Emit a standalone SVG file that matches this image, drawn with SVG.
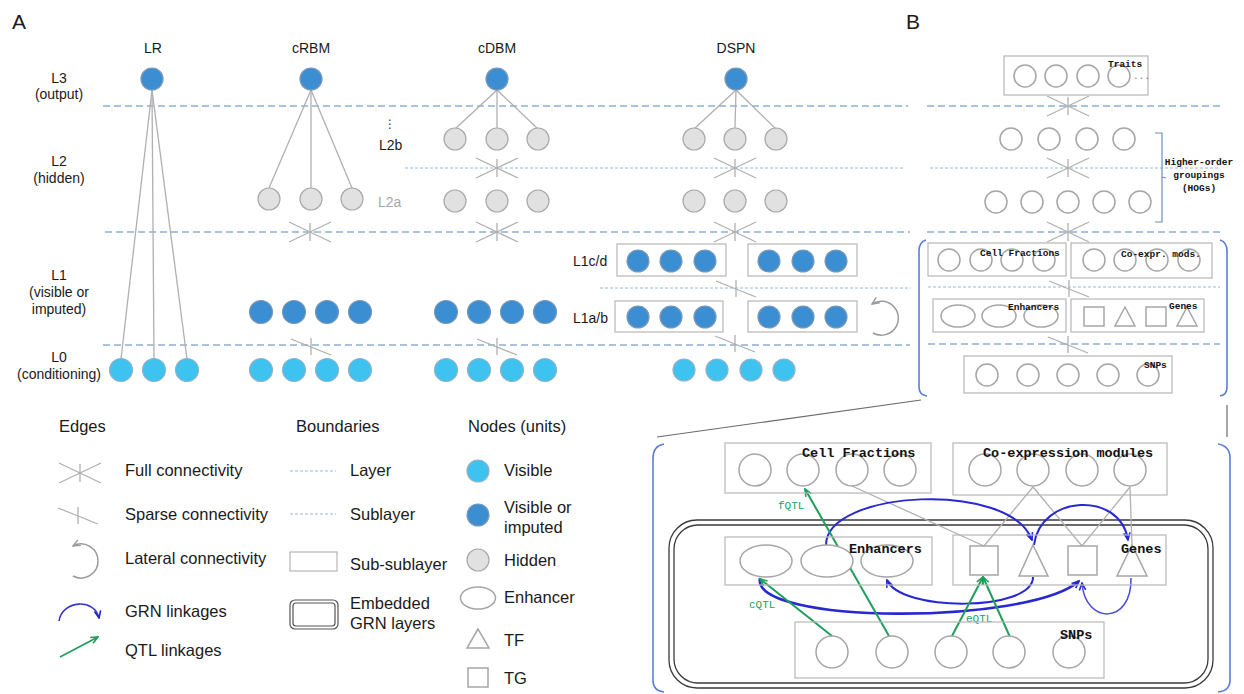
<svg xmlns="http://www.w3.org/2000/svg" width="1244" height="694" viewBox="0 0 1244 694">
<style>
.t{font-family:"Liberation Sans",Arial,sans-serif;fill:#1a1a1a}
.a{font-size:14px;text-anchor:middle}
.s{font-size:14px}
.lg{font-size:16.5px}
.big{font-size:21px}
.m{font-family:"Liberation Mono","Courier New",monospace;font-weight:bold;fill:#111}
.ms{font-size:9.5px}
.mc{text-anchor:middle}
.mb{font-size:13.5px}
.q{font-family:"Liberation Mono","Courier New",monospace;font-size:11px;fill:#22a060}
.lay{stroke:#8eb0d0;stroke-width:1.3;stroke-dasharray:7 4;fill:none}
.sub{stroke:#9ab8d6;stroke-width:1;stroke-dasharray:3 2;fill:none}
.vis{fill:#3ec2ef;stroke:#93b3c6;stroke-width:1.2}
.imp{fill:#3b8ed2;stroke:#7b98b6;stroke-width:1.2}
.hid{fill:#e1e1e1;stroke:#a9a9a9;stroke-width:1.2}
.u{fill:#fff;stroke:#a6a6a6;stroke-width:1.5}
.box{fill:none;stroke:#b6b6b6;stroke-width:1.2}
.e{stroke:#b0b0b0;stroke-width:1.3;fill:none}
.grn{stroke:#2828d2;stroke-width:2;fill:none}
.qtl{stroke:#1f9e5c;stroke-width:2;fill:none}
.br{stroke:#5a7fd6;stroke-width:1.6;fill:none}
.emb{fill:none;stroke:#3a3a3a;stroke-width:1.3}
.gl{stroke:#6a6a6a;stroke-width:1.2;fill:none}
</style>
<defs>
<g id="full" class="e"><line x1="-21" y1="-10" x2="21" y2="10"/><line x1="-21" y1="10" x2="21" y2="-10"/><line x1="0" y1="-9" x2="0" y2="9"/></g>
<g id="sparse" class="e"><line x1="-20" y1="-8" x2="20" y2="8"/><line x1="0" y1="-9" x2="0" y2="8"/></g>
<marker id="mb" viewBox="0 0 10 10" refX="9" refY="5" markerWidth="9" markerHeight="9" markerUnits="userSpaceOnUse" orient="auto"><path d="M1,1.5 L9,5 L1,8.5" fill="none" stroke="#2828d2" stroke-width="1.8"/></marker>
<marker id="mg" viewBox="0 0 10 10" refX="9" refY="5" markerWidth="9" markerHeight="9" markerUnits="userSpaceOnUse" orient="auto"><path d="M1,1.5 L9,5 L1,8.5" fill="none" stroke="#1f9e5c" stroke-width="1.8"/></marker>
<marker id="mgr" viewBox="0 0 10 10" refX="9" refY="5" markerWidth="9" markerHeight="9" markerUnits="userSpaceOnUse" orient="auto-start-reverse"><path d="M1,1.5 L9,5 L1,8.5" fill="none" stroke="#9a9a9a" stroke-width="1.6"/></marker>
</defs>

<g id="labels">
<text class="t big" x="12" y="29">A</text>
<text class="t big" x="906" y="29">B</text>
<text class="t a" x="153" y="53">LR</text>
<text class="t a" x="311" y="53">cRBM</text>
<text class="t a" x="497" y="53">cDBM</text>
<text class="t a" x="736" y="53">DSPN</text>
<text class="t a" x="59" y="83">L3</text>
<text class="t a" x="59" y="99">(output)</text>
<text class="t a" x="59" y="166">L2</text>
<text class="t a" x="59" y="183">(hidden)</text>
<text class="t a" x="59" y="280">L1</text>
<text class="t a" x="59" y="297">(visible or</text>
<text class="t a" x="59" y="314">imputed)</text>
<text class="t a" x="59" y="362">L0</text>
<text class="t a" x="59" y="379">(conditioning)</text>
<text x="390" y="128" style="font-family:'DejaVu Sans',sans-serif;font-size:12px;fill:#333" text-anchor="middle">⋮</text>
<text class="t s" x="379" y="150">L2b</text>
<text class="t s" x="378" y="207" style="fill:#a8a8a8">L2a</text>
<text class="t s" x="573" y="266">L1c/d</text>
<text class="t s" x="573" y="323">L1a/b</text>
</g>

<g id="boundaries">
<line class="lay" x1="103" y1="106" x2="908" y2="106"/>
<line class="sub" x1="405" y1="168" x2="903" y2="168"/>
<line class="lay" x1="105" y1="232" x2="910" y2="232"/>
<line class="sub" x1="600" y1="288" x2="911" y2="288"/>
<line class="lay" x1="103" y1="345" x2="910" y2="345"/>
<line class="lay" x1="927" y1="106" x2="1220" y2="106"/>
<line class="sub" x1="930" y1="168" x2="1220" y2="168"/>
<line class="lay" x1="927" y1="232" x2="1220" y2="232"/>
<line class="sub" x1="928" y1="287" x2="1220" y2="287"/>
<line class="lay" x1="928" y1="344" x2="1220" y2="344"/>
<rect class="box" x="617" y="244" width="109" height="32"/>
<rect class="box" x="748" y="244" width="109" height="32"/>
<rect class="box" x="615" y="301" width="108" height="31"/>
<rect class="box" x="748" y="301" width="109" height="31"/>
<path d="M1155 133 L1162 133 L1162 222 L1155 222 M1162 177 L1166 178" fill="none" stroke="#6d8fc0" stroke-width="1.2"/>
<path class="br" d="M926 240 Q919 242 919 251 L919 387 Q919 395 927 396"/>
<path class="br" d="M1220 240 Q1227 242 1227 251 L1227 387 Q1227 395 1220 396"/>
<path class="br" d="M664 444 Q653 446 653 458 L653 680 Q653 691 664 692"/>
<path class="br" d="M1218 444 Q1230 446 1230 458 L1230 680 Q1230 691 1218 692"/>
<line class="gl" x1="657" y1="437" x2="921" y2="400"/>
<line class="gl" x1="1227" y1="405" x2="1227" y2="437"/>
<rect class="emb" x="669" y="520" width="544" height="168" rx="28"/>
<rect class="emb" x="674" y="525" width="534" height="158" rx="24"/>
</g>

<g id="connectors">
<g class="e">
<line x1="152" y1="90" x2="121" y2="359"/><line x1="152" y1="90" x2="154" y2="359"/><line x1="152" y1="90" x2="187" y2="359"/>
<line x1="311" y1="90" x2="269" y2="188"/><line x1="311" y1="90" x2="311" y2="188"/><line x1="311" y1="90" x2="352" y2="188"/>
<line x1="497" y1="90" x2="455" y2="129"/><line x1="497" y1="90" x2="497" y2="128"/><line x1="497" y1="90" x2="538" y2="129"/>
<line x1="736" y1="90" x2="694" y2="129"/><line x1="736" y1="90" x2="735" y2="128"/><line x1="736" y1="90" x2="776" y2="129"/>
</g>
<use href="#full" x="310" y="232"/>
<use href="#full" x="497" y="168"/>
<use href="#full" x="497" y="232"/>
<use href="#full" x="735" y="168"/>
<use href="#full" x="735" y="232"/>
<use href="#sparse" x="311" y="347"/>
<use href="#sparse" x="497" y="347"/>
<use href="#sparse" x="736" y="289"/>
<use href="#sparse" x="735" y="344"/>
<path d="M872 304 A17 17 0 1 1 873 333" fill="none" stroke="#9a9a9a" stroke-width="1.5" marker-start="url(#mgr)"/>
<use href="#full" x="1068" y="106"/>
<use href="#full" x="1068" y="168"/>
<use href="#full" x="1068" y="232"/>
<use href="#sparse" x="1069" y="289"/>
<use href="#sparse" x="1068" y="345"/>
<g class="e">
<line x1="852" y1="486" x2="984" y2="546"/>
<line x1="1033" y1="487" x2="984" y2="546"/>
<line x1="1033" y1="487" x2="1082" y2="546"/>
<line x1="1130" y1="487" x2="1082" y2="546"/>
<line x1="1130" y1="487" x2="1132" y2="545"/>
</g>
<path class="grn" d="M826 545 C826 490 1010 480 1032 540" marker-end="url(#mb)"/>
<path class="grn" d="M1034 545 C1040 495 1120 490 1128 540" marker-end="url(#mb)"/>
<path class="grn" d="M1033 577 C1033 612 900 612 887 580" marker-end="url(#mb)"/>
<path class="grn" d="M760 578 C750 625 1030 625 1079 581" marker-end="url(#mb)" style="stroke-width:2.6"/>
<path class="grn" d="M1131 578 C1132 625 1085 625 1082 583" marker-end="url(#mb)" style="stroke:#4a4ad8;stroke-width:1.5"/>
<line class="qtl" x1="832" y1="636" x2="760" y2="579" marker-end="url(#mg)"/>
<line class="qtl" x1="889" y1="636" x2="805" y2="489" marker-end="url(#mg)"/>
<line class="qtl" x1="952" y1="636" x2="983" y2="577" marker-end="url(#mg)"/>
<line class="qtl" x1="1010" y1="637" x2="983" y2="577" marker-end="url(#mg)"/>
<text class="q" x="778" y="509">fQTL</text>
<text class="q" x="749" y="608">cQTL</text>
<text class="q" x="966" y="622">eQTL</text>
</g>

<g id="lr-l3"><circle class="imp" cx="152" cy="79" r="11"/></g>
<g id="lr-l0-1"><circle class="vis" cx="121" cy="370" r="11.5"/></g>
<g id="lr-l0-2"><circle class="vis" cx="154" cy="370" r="11.5"/></g>
<g id="lr-l0-3"><circle class="vis" cx="187" cy="370" r="11.5"/></g>

<g id="crbm-l3"><circle class="imp" cx="311" cy="79" r="11"/></g>
<g id="crbm-l2a-1"><circle class="hid" cx="269" cy="199" r="11"/></g>
<g id="crbm-l2a-2"><circle class="hid" cx="311" cy="199" r="11"/></g>
<g id="crbm-l2a-3"><circle class="hid" cx="352" cy="199" r="11"/></g>
<g id="crbm-l1-1"><circle class="imp" cx="261" cy="312" r="11.5"/></g>
<g id="crbm-l1-2"><circle class="imp" cx="294" cy="312" r="11.5"/></g>
<g id="crbm-l1-3"><circle class="imp" cx="327" cy="312" r="11.5"/></g>
<g id="crbm-l1-4"><circle class="imp" cx="360" cy="312" r="11.5"/></g>
<g id="crbm-l0-1"><circle class="vis" cx="261" cy="370" r="11.5"/></g>
<g id="crbm-l0-2"><circle class="vis" cx="294" cy="370" r="11.5"/></g>
<g id="crbm-l0-3"><circle class="vis" cx="327" cy="370" r="11.5"/></g>
<g id="crbm-l0-4"><circle class="vis" cx="360" cy="370" r="11.5"/></g>

<g id="cdbm-l3"><circle class="imp" cx="497" cy="79" r="11"/></g>
<g id="cdbm-l2b-1"><circle class="hid" cx="455" cy="139" r="11"/></g>
<g id="cdbm-l2b-2"><circle class="hid" cx="497" cy="139" r="11"/></g>
<g id="cdbm-l2b-3"><circle class="hid" cx="538" cy="139" r="11"/></g>
<g id="cdbm-l2a-1"><circle class="hid" cx="455" cy="201" r="11"/></g>
<g id="cdbm-l2a-2"><circle class="hid" cx="497" cy="201" r="11"/></g>
<g id="cdbm-l2a-3"><circle class="hid" cx="538" cy="201" r="11"/></g>
<g id="cdbm-l1-1"><circle class="imp" cx="446" cy="312" r="11.5"/></g>
<g id="cdbm-l1-2"><circle class="imp" cx="479" cy="312" r="11.5"/></g>
<g id="cdbm-l1-3"><circle class="imp" cx="512" cy="312" r="11.5"/></g>
<g id="cdbm-l1-4"><circle class="imp" cx="545" cy="312" r="11.5"/></g>
<g id="cdbm-l0-1"><circle class="vis" cx="446" cy="370" r="11.5"/></g>
<g id="cdbm-l0-2"><circle class="vis" cx="479" cy="370" r="11.5"/></g>
<g id="cdbm-l0-3"><circle class="vis" cx="512" cy="370" r="11.5"/></g>
<g id="cdbm-l0-4"><circle class="vis" cx="545" cy="370" r="11.5"/></g>

<g id="dspn-l3"><circle class="imp" cx="736" cy="79" r="11"/></g>
<g id="dspn-l2b-1"><circle class="hid" cx="694" cy="139" r="11"/></g>
<g id="dspn-l2b-2"><circle class="hid" cx="735" cy="139" r="11"/></g>
<g id="dspn-l2b-3"><circle class="hid" cx="776" cy="139" r="11"/></g>
<g id="dspn-l2a-1"><circle class="hid" cx="694" cy="201" r="11"/></g>
<g id="dspn-l2a-2"><circle class="hid" cx="735" cy="201" r="11"/></g>
<g id="dspn-l2a-3"><circle class="hid" cx="776" cy="201" r="11"/></g>
<g id="dspn-l1c-1"><circle class="imp" cx="638" cy="261" r="11"/></g>
<g id="dspn-l1c-2"><circle class="imp" cx="671" cy="261" r="11"/></g>
<g id="dspn-l1c-3"><circle class="imp" cx="705" cy="261" r="11"/></g>
<g id="dspn-l1d-1"><circle class="imp" cx="769" cy="261" r="11"/></g>
<g id="dspn-l1d-2"><circle class="imp" cx="803" cy="261" r="11"/></g>
<g id="dspn-l1d-3"><circle class="imp" cx="836" cy="261" r="11"/></g>
<g id="dspn-l1a-1"><circle class="imp" cx="638" cy="317" r="11"/></g>
<g id="dspn-l1a-2"><circle class="imp" cx="671" cy="317" r="11"/></g>
<g id="dspn-l1a-3"><circle class="imp" cx="705" cy="317" r="11"/></g>
<g id="dspn-l1b-1"><circle class="imp" cx="769" cy="317" r="11"/></g>
<g id="dspn-l1b-2"><circle class="imp" cx="803" cy="317" r="11"/></g>
<g id="dspn-l1b-3"><circle class="imp" cx="836" cy="317" r="11"/></g>
<g id="dspn-l0-1"><circle class="vis" cx="684" cy="370" r="11"/></g>
<g id="dspn-l0-2"><circle class="vis" cx="717" cy="370" r="11"/></g>
<g id="dspn-l0-3"><circle class="vis" cx="751" cy="370" r="11"/></g>
<g id="dspn-l0-4"><circle class="vis" cx="784" cy="370" r="11"/></g>

<g id="b-traits">
<rect class="box" x="1004" y="56" width="144" height="39"/>
<circle class="u" cx="1025" cy="76" r="11"/><circle class="u" cx="1056" cy="76" r="11"/><circle class="u" cx="1088" cy="76" r="11"/><circle class="u" cx="1119" cy="76" r="11"/>
<text class="m ms" x="1108" y="67">Traits</text>
<text class="m ms" x="1133" y="79" style="fill:#777;font-weight:normal">...</text>
</g>
<g id="b-hog1">
<circle class="u" cx="1011" cy="139" r="11"/><circle class="u" cx="1049" cy="139" r="11"/><circle class="u" cx="1087" cy="139" r="11"/><circle class="u" cx="1124" cy="139" r="11"/>
</g>
<g id="b-hog2">
<circle class="u" cx="996" cy="202" r="11"/><circle class="u" cx="1032" cy="202" r="11"/><circle class="u" cx="1068" cy="202" r="11"/><circle class="u" cx="1104" cy="202" r="11"/><circle class="u" cx="1140" cy="202" r="11"/>
</g>
<g id="b-hog-label">
<text class="m ms mc" x="1199" y="165">Higher-order</text>
<text class="m ms mc" x="1199" y="178">groupings</text>
<text class="m ms mc" x="1199" y="191">(HOGs)</text>
</g>
<g id="b-cellfrac-small">
<rect class="box" x="928" y="243" width="138" height="33"/>
<circle class="u" cx="949" cy="260" r="11"/><circle class="u" cx="981" cy="260" r="11"/><circle class="u" cx="1012" cy="260" r="11"/><circle class="u" cx="1044" cy="260" r="11"/>
<text class="m ms" x="980" y="256">Cell Fractions</text>
</g>
<g id="b-coexpr-small">
<rect class="box" x="1071" y="243" width="141" height="35"/>
<circle class="u" cx="1094" cy="260" r="11"/><circle class="u" cx="1125" cy="260" r="11"/><circle class="u" cx="1157" cy="260" r="11"/><circle class="u" cx="1189" cy="260" r="11"/>
<text class="m ms" x="1121" y="257">Co-expr. mods.</text>
</g>
<g id="b-enh-small">
<rect class="box" x="933" y="299" width="133" height="33"/>
<ellipse class="u" cx="958" cy="316" rx="17" ry="11"/><ellipse class="u" cx="999" cy="316" rx="17" ry="11"/><ellipse class="u" cx="1041" cy="316" rx="17" ry="11"/>
<text class="m ms" x="1008" y="310">Enhancers</text>
</g>
<g id="b-genes-small">
<rect class="box" x="1071" y="299" width="133" height="33"/>
<rect class="u" x="1084" y="307" width="20" height="19"/>
<path class="u" d="M1125 307 L1115 326 L1135 326 Z"/>
<rect class="u" x="1146" y="307" width="20" height="19"/>
<path class="u" d="M1187 307 L1177 326 L1197 326 Z"/>
<text class="m ms" x="1169" y="309">Genes</text>
</g>
<g id="b-snps-small">
<rect class="box" x="964" y="356" width="208" height="37"/>
<circle class="u" cx="987" cy="375" r="11"/><circle class="u" cx="1028" cy="375" r="11"/><circle class="u" cx="1068" cy="375" r="11"/><circle class="u" cx="1108" cy="375" r="11"/><circle class="u" cx="1148" cy="375" r="11"/>
<text class="m ms" x="1144" y="368">SNPs</text>
</g>

<g id="z-cellfrac">
<rect class="box" x="725" y="443" width="206" height="50"/>
<circle class="u" cx="755" cy="470" r="16"/><circle class="u" cx="803" cy="470" r="16"/><circle class="u" cx="852" cy="470" r="16"/><circle class="u" cx="900" cy="470" r="16"/>
<text class="m mb" x="802" y="457">Cell Fractions</text>
</g>
<g id="z-coexpr">
<rect class="box" x="953" y="443" width="214" height="52"/>
<circle class="u" cx="985" cy="470" r="16"/><circle class="u" cx="1033" cy="470" r="16"/><circle class="u" cx="1082" cy="470" r="16"/><circle class="u" cx="1130" cy="470" r="16"/>
<text class="m mb" x="983" y="457">Co-expression modules</text>
</g>
<g id="z-enh">
<rect class="box" x="725" y="537" width="207" height="48"/>
<ellipse class="u" cx="766" cy="561" rx="26" ry="16"/><ellipse class="u" cx="827" cy="561" rx="26" ry="16"/><ellipse class="u" cx="887" cy="561" rx="26" ry="16"/>
<text class="m mb" x="849" y="553">Enhancers</text>
</g>
<g id="z-genes">
<rect class="box" x="953" y="535" width="213" height="50"/>
<rect class="u" x="970" y="546" width="28" height="29"/>
<path class="u" d="M1033 545 L1019 576 L1048 576 Z"/>
<rect class="u" x="1068" y="546" width="29" height="29"/>
<path class="u" d="M1132 545 L1117 576 L1147 576 Z"/>
<text class="m mb" x="1121" y="553">Genes</text>
</g>
<g id="z-snps">
<rect class="box" x="795" y="622" width="309" height="56"/>
<circle class="u" cx="832" cy="652" r="16"/><circle class="u" cx="892" cy="652" r="16"/><circle class="u" cx="951" cy="652" r="16"/><circle class="u" cx="1009" cy="652" r="16"/><circle class="u" cx="1069" cy="652" r="16"/>
<text class="m mb" x="1060" y="639">SNPs</text>
</g>

<g id="legend-edges">
<text class="t lg" x="59" y="432">Edges</text>
<use href="#full" x="80" y="473"/>
<text class="t lg" x="125" y="476">Full connectivity</text>
<use href="#sparse" x="78" y="516"/>
<text class="t lg" x="125" y="520">Sparse connectivity</text>
<path d="M73 546 A17 17 0 1 1 73 576" fill="none" stroke="#9a9a9a" stroke-width="1.5" marker-start="url(#mgr)"/>
<text class="t lg" x="125" y="564">Lateral connectivity</text>
<path d="M59 621 C62 600 95 598 99 618" fill="none" stroke="#3838c8" stroke-width="1.6" marker-end="url(#mb)"/>
<text class="t lg" x="125" y="617">GRN linkages</text>
<line x1="60" y1="657" x2="98" y2="637" class="qtl" style="stroke-width:1.6" marker-end="url(#mg)"/>
<text class="t lg" x="125" y="656">QTL linkages</text>
</g>
<g id="legend-boundaries">
<text class="t lg" x="296" y="432">Boundaries</text>
<line class="sub" x1="290" y1="471" x2="336" y2="471"/>
<text class="t lg" x="350" y="476">Layer</text>
<line class="sub" x1="290" y1="514" x2="336" y2="514"/>
<text class="t lg" x="350" y="520">Sublayer</text>
<rect class="box" x="290" y="552" width="47" height="19"/>
<text class="t lg" x="350" y="570">Sub-sublayer</text>
<rect x="290" y="600" width="48" height="29" rx="5" fill="none" stroke="#555" stroke-width="1.2"/>
<rect x="293" y="603" width="42" height="23" rx="3" fill="none" stroke="#555" stroke-width="1.2"/>
<text class="t lg" x="350" y="609">Embedded</text>
<text class="t lg" x="350" y="629">GRN layers</text>
</g>
<g id="legend-nodes">
<text class="t lg" x="468" y="432">Nodes (units)</text>
<circle class="vis" cx="478" cy="471" r="11"/>
<text class="t lg" x="504" y="476">Visible</text>
<circle class="imp" cx="478" cy="515" r="11"/>
<text class="t lg" x="504" y="513">Visible or</text>
<text class="t lg" x="504" y="533">imputed</text>
<circle class="hid" cx="478" cy="560" r="11"/>
<text class="t lg" x="504" y="566">Hidden</text>
<ellipse class="u" cx="478" cy="598" rx="17.5" ry="11"/>
<text class="t lg" x="504" y="603">Enhancer</text>
<path class="u" d="M478 629 L467 648 L489 648 Z"/>
<text class="t lg" x="504" y="646">TF</text>
<rect class="u" x="468" y="668" width="20" height="19"/>
<text class="t lg" x="504" y="684">TG</text>
</g>
</svg>
